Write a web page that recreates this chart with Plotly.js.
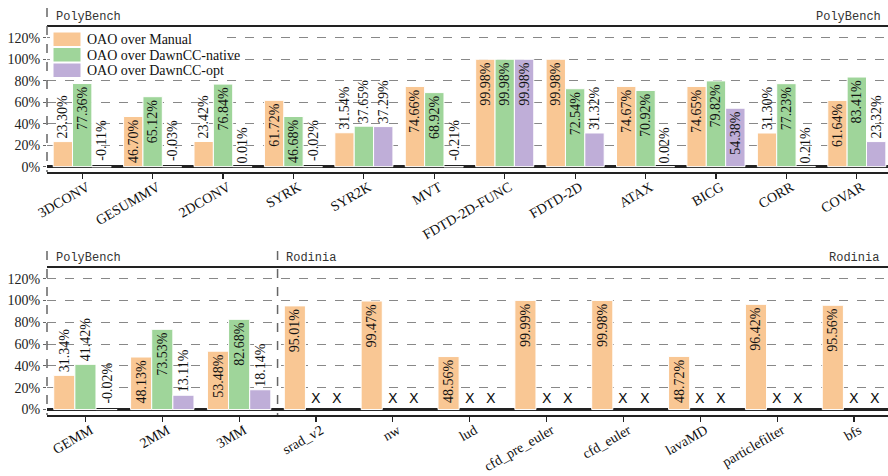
<!DOCTYPE html>
<html>
<head>
<meta charset="utf-8">
<script src="https://cdn.plot.ly/plotly-3.0.1.min.js"></script>
<style>html,body{margin:0;padding:0;background:#fff;}#chart{width:888px;height:476px;}</style>
</head>
<body>
<div id="chart"></div>
<script>
// ---- data ----
const topCats = ['3DCONV','GESUMMV','2DCONV','SYRK','SYR2K','MVT','FDTD-2D-FUNC','FDTD-2D','ATAX','BICG','CORR','COVAR'];
const topManual = [23.30, 46.70, 23.42, 61.72, 31.54, 74.66, 99.98, 99.98, 74.67, 74.65, 31.30, 61.64];
const topNative = [77.36, 65.12, 76.84, 46.68, 37.65, 68.92, 99.98, 72.54, 70.92, 79.82, 77.23, 83.41];
const topOpt    = [-0.11, -0.03, 0.01, -0.02, 37.29, -0.21, 99.98, 31.32, 0.02, 54.38, 0.21, 23.32];

const botCats = ['GEMM','2MM','3MM','srad_v2','nw','lud','cfd_pre_euler','cfd_euler','lavaMD','particlefilter','bfs'];
const botManual = [31.34, 48.13, 53.48, 95.01, 99.47, 48.56, 99.99, 99.98, 48.72, 96.42, 95.56];
const botNative = [41.42, 73.53, 82.68, null, null, null, null, null, null, null, null];
const botOpt    = [-0.02, 13.11, 18.14, null, null, null, null, null, null, null, null];

const seriesNames = ['OAO over Manual','OAO over DawnCC-native','OAO over DawnCC-opt'];
const colors = ['#F9C794','#9FD59A','#BFAED8'];
const yTicks = [0,20,40,60,80,100,120];

// ---- style ----
const SERIF = 'Liberation Serif, Times New Roman, serif';
const MONO = 'Liberation Mono, monospace';
const BARGAP = 0.175;
const SLOT = (1 - BARGAP) / 3;

function fmt(v){ return v.toFixed(2) + '%'; }

function makeTrace(cats, vals, k, xa, ya){
  return {
    type: 'bar', x: cats, y: vals, name: seriesNames[k],
    xaxis: xa, yaxis: ya, showlegend: false,
    marker: {color: colors[k], line: {color: 'white', width: 1}},
    text: vals.map(v => (v === null || v < 0) ? '' : fmt(v)),
    textposition: vals.map(v => (v !== null && v >= 45) ? 'inside' : 'outside'),
    textangle: -90, insidetextanchor: 'end', constraintext: 'none', cliponaxis: false,
    textfont: {family: SERIF, size: 14, color: '#111'},
    hoverinfo: 'skip'
  };
}

const traces = [
  makeTrace(topCats, topManual, 0, 'x', 'y'),
  makeTrace(topCats, topNative, 1, 'x', 'y'),
  makeTrace(topCats, topOpt, 2, 'x', 'y'),
  makeTrace(botCats, botManual, 0, 'x2', 'y2'),
  makeTrace(botCats, botNative, 1, 'x2', 'y2'),
  makeTrace(botCats, botOpt, 2, 'x2', 'y2')
];

// annotations: labels for negative values and X for missing values
const annotations = [];
function addSpecial(vals, k, xa, ya){
  vals.forEach((v, i) => {
    const xpos = i + (k - 1) * SLOT;
    if (v === null) {
      annotations.push({xref: xa, yref: ya, x: xpos, y: 0, yanchor: 'bottom', yshift: 2,
        text: 'X', showarrow: false, font: {family: 'DejaVu Sans', size: 14, color: '#111'}});
    } else if (v < 0) {
      annotations.push({xref: xa, yref: ya, x: xpos, y: 0, yanchor: 'bottom', yshift: 4,
        text: fmt(v), textangle: -90, showarrow: false, font: {family: SERIF, size: 14, color: '#111'}});
    }
  });
}
addSpecial(topOpt, 2, 'x', 'y');
addSpecial(botNative, 1, 'x2', 'y2');
addSpecial(botOpt, 2, 'x2', 'y2');

const H = 476, L = 47, PW = 888 - L;
const py = px => 1 - px / H;
const pxX = px => (px - L) / PW;

annotations.push(
  {xref:'paper', yref:'paper', x:pxX(54), y:py(17), xanchor:'left', yanchor:'middle', text:'PolyBench', showarrow:false, font:{family:MONO, size:12, color:'#333'}},
  {xref:'paper', yref:'paper', x:pxX(883), y:py(17), xanchor:'right', yanchor:'middle', text:'PolyBench', showarrow:false, font:{family:MONO, size:12, color:'#333'}},
  {xref:'paper', yref:'paper', x:pxX(54), y:py(258), xanchor:'left', yanchor:'middle', text:'PolyBench', showarrow:false, font:{family:MONO, size:12, color:'#333'}},
  {xref:'x2', yref:'paper', x:2.5, xshift:6, y:py(258), xanchor:'left', yanchor:'middle', text:'Rodinia', showarrow:false, font:{family:MONO, size:12, color:'#333'}},
  {xref:'paper', yref:'paper', x:pxX(881), y:py(258), xanchor:'right', yanchor:'middle', text:'Rodinia', showarrow:false, font:{family:MONO, size:12, color:'#333'}}
);

const shapes = [
  {type:'line', xref:'paper', yref:'paper', x0:0, x1:0, y0:py(8), y1:py(172), line:{color:'#666', width:1.5, dash:'dash'}},
  {type:'line', xref:'paper', yref:'paper', x0:0, x1:0, y0:py(251), y1:py(415), line:{color:'#666', width:1.5, dash:'dash'}},
  {type:'line', xref:'x2', yref:'paper', x0:2.5, x1:2.5, y0:py(251), y1:py(415), line:{color:'#666', width:1.5, dash:'dash'}}
];

// legend (box, colour patches, labels)
shapes.push({type:'rect', xref:'paper', yref:'paper', x0:pxX(50), x1:pxX(224), y0:py(29), y1:py(79),
  fillcolor:'#fff', line:{width:0}, layer:'above'});
seriesNames.forEach((name, k) => {
  const top = 32 + k * 15.5;
  shapes.push({type:'rect', xref:'paper', yref:'paper', x0:pxX(53), x1:pxX(81), y0:py(top), y1:py(top + 14.5),
    fillcolor: colors[k], line:{color:'#fff', width:1}, layer:'above'});
  annotations.push({xref:'paper', yref:'paper', x:pxX(85), y:py(top + 7.5), xanchor:'left', yanchor:'middle',
    text: name, showarrow:false, font:{family:SERIF, size:14, color:'#111'}});
});

function xAxis(domainAnchor, n){
  return {
    anchor: domainAnchor, domain: [0, 1], range: [-0.5, n - 0.5 - 4 / 70],
    type: 'category', showgrid: false, zeroline: false,
    showline: true, mirror: true, linecolor: '#222', linewidth: 1.8,
    ticks: 'outside', ticklen: 5, tickwidth: 1.2, tickcolor: '#222',
    tickangle: -30, ticklabelstandoff: -5, ticklabelshift: 5,
    tickfont: {family: SERIF, size: 14, color: '#111'}
  };
}
function yAxis(domainAnchor, domain){
  return {
    anchor: domainAnchor, domain: domain, range: [-5, 130],
    tickvals: yTicks, ticktext: yTicks.map(t => t + '%'),
    showgrid: true, gridcolor: '#888', griddash: 'dash', gridwidth: 1,
    zeroline: true, zerolinecolor: '#222', zerolinewidth: 2.5,
    showline: false, ticks: 'outside', ticklen: 3, tickcolor: '#666',
    tickfont: {family: SERIF, size: 14, color: '#222'}
  };
}

const layout = {
  width: 888, height: 476,
  margin: {l: L, r: 0, t: 0, b: 0},
  paper_bgcolor: '#fff', plot_bgcolor: '#fff',
  barmode: 'group', bargap: BARGAP, bargroupgap: 0,
  xaxis: xAxis('y', topCats.length),
  yaxis: yAxis('x', [py(172), py(27)]),
  xaxis2: xAxis('y2', botCats.length),
  yaxis2: yAxis('x2', [py(415), py(267.7)]),
  showlegend: false,
  annotations: annotations,
  shapes: shapes,
  font: {family: SERIF}
};

Plotly.newPlot('chart', traces, layout, {displayModeBar: false, staticPlot: true});
</script>
</body>
</html>
